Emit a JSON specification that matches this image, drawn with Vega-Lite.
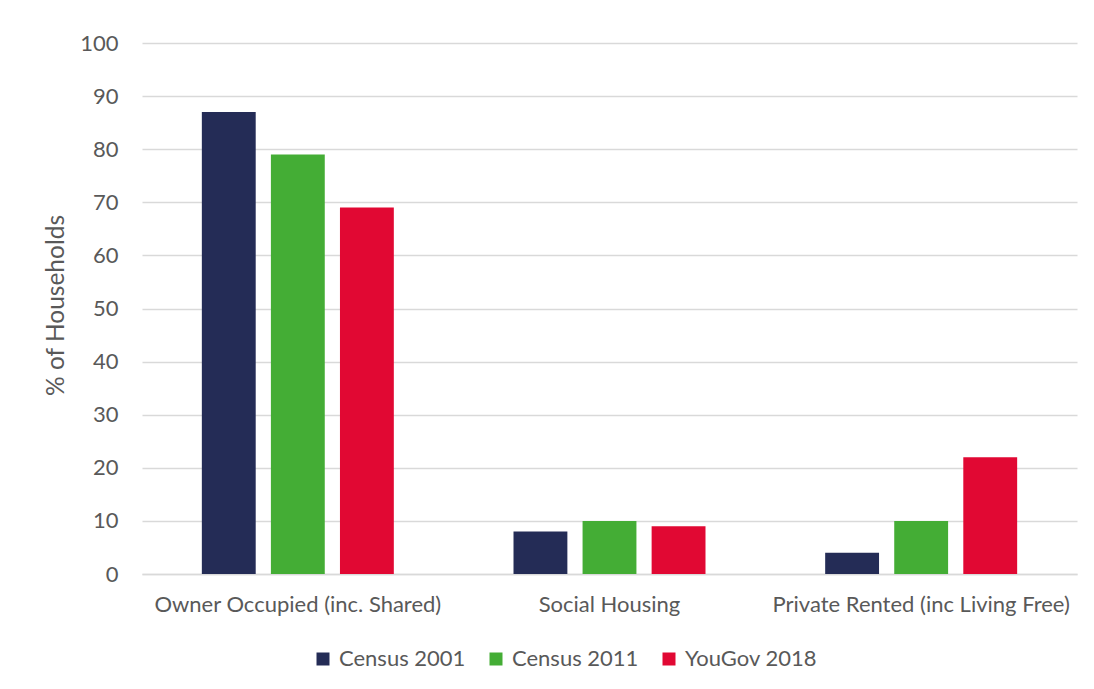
{
  "$schema": "https://vega.github.io/schema/vega-lite/v6.json",
  "width": 935,
  "height": 531,
  "autosize": {"type": "none"},
  "padding": {"left": 142, "top": 43, "right": 17, "bottom": 115},
  "background": "white",
  "data": {
    "values": [
      {"tenure": "Owner Occupied (inc. Shared)", "series": "Census 2001", "pct": 87},
      {"tenure": "Owner Occupied (inc. Shared)", "series": "Census 2011", "pct": 79},
      {"tenure": "Owner Occupied (inc. Shared)", "series": "YouGov 2018", "pct": 69},
      {"tenure": "Social Housing", "series": "Census 2001", "pct": 8},
      {"tenure": "Social Housing", "series": "Census 2011", "pct": 10},
      {"tenure": "Social Housing", "series": "YouGov 2018", "pct": 9},
      {"tenure": "Private Rented (inc Living Free)", "series": "Census 2001", "pct": 4},
      {"tenure": "Private Rented (inc Living Free)", "series": "Census 2011", "pct": 10},
      {"tenure": "Private Rented (inc Living Free)", "series": "YouGov 2018", "pct": 22}
    ]
  },
  "mark": {"type": "bar"},
  "encoding": {
    "x": {
      "field": "tenure",
      "type": "nominal",
      "sort": null,
      "scale": {"paddingInner": 0.384, "paddingOuter": 0.192},
      "axis": {
        "title": null,
        "labelAngle": 0,
        "labelFont": "Lato",
        "labelFontSize": 22,
        "labelColor": "#595959",
        "labelPadding": 20,
        "labelLimit": 0,
        "ticks": false,
        "domain": true,
        "domainColor": "#d9d9d9",
        "domainWidth": 1.5,
        "grid": false
      }
    },
    "xOffset": {
      "field": "series",
      "type": "nominal",
      "sort": null,
      "scale": {"paddingInner": 0.22, "paddingOuter": 0}
    },
    "y": {
      "field": "pct",
      "type": "quantitative",
      "scale": {"domain": [0, 100], "nice": false},
      "axis": {
        "title": "% of Households",
        "titleFont": "Lato",
        "titleFontSize": 24.5,
        "titleFontWeight": "normal",
        "titleColor": "#595959",
        "titlePadding": 11,
        "titleY": 262,
        "values": [0, 10, 20, 30, 40, 50, 60, 70, 80, 90, 100],
        "labelFont": "Lato",
        "labelFontSize": 22,
        "labelColor": "#595959",
        "labelPadding": 24,
        "ticks": false,
        "domain": false,
        "grid": true,
        "gridColor": "#d9d9d9",
        "gridWidth": 1.5
      }
    },
    "color": {
      "field": "series",
      "type": "nominal",
      "sort": null,
      "scale": {
        "domain": ["Census 2001", "Census 2011", "YouGov 2018"],
        "range": ["#242c56", "#44ad35", "#e10833"]
      },
      "legend": {
        "title": null,
        "orient": "none",
        "direction": "horizontal",
        "legendX": 170,
        "legendY": 605,
        "symbolType": "square",
        "symbolSize": 169,
        "symbolStrokeWidth": 0,
        "labelFont": "Lato",
        "labelFontSize": 22,
        "labelColor": "#595959",
        "labelOffset": 5,
        "columnPadding": 19
      }
    }
  },
  "config": {"view": {"stroke": null}}
}
